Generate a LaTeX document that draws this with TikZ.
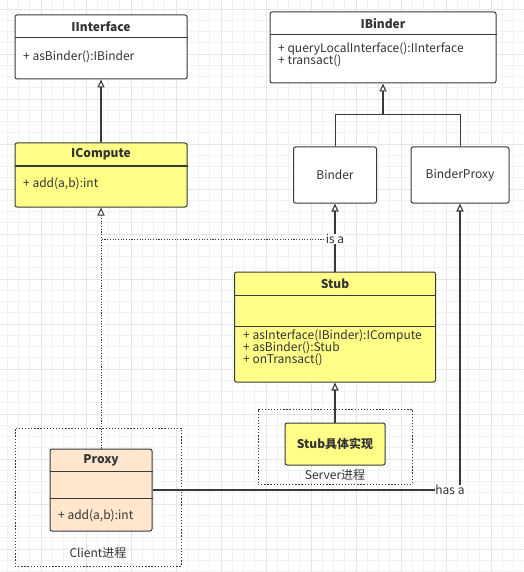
\documentclass[tikz,border=0pt]{standalone}
\usepackage{fontspec}
\setmainfont{Noto Sans CJK SC}
\usetikzlibrary{arrows.meta}
\definecolor{umlyellow}{HTML}{FFFF88}
\definecolor{umlpeach}{HTML}{FFE6CC}
\definecolor{umlstroke}{HTML}{36393D}
\definecolor{umltext}{HTML}{333333}
\definecolor{gridlo}{HTML}{F2F2F2}
\definecolor{gridhi}{HTML}{E6E6E6}
\tikzset{
  gridminor/.style={gridlo, line width=0.6pt},
  gridmajor/.style={gridhi, line width=0.8pt},
  classbox/.style={draw=umlstroke, line width=1pt, rounded corners=2pt, fill=white, inner sep=0pt},
  classsep/.style={umlstroke, line width=1pt},
  classname/.style={font=\bfseries\fontsize{12}{14}\selectfont, text=umltext, inner sep=0pt},
  member/.style={anchor=west, font=\fontsize{12}{14}\selectfont, text=umltext, inner sep=0pt},
  process/.style={draw=umlstroke, line width=0.9pt, dash pattern=on 1.3pt off 1.8pt, inner sep=0pt},
  procname/.style={font=\fontsize{12}{14}\selectfont, text=umltext, inner sep=0pt},
  inherit/.style={draw=umlstroke, line width=1.1pt, -{Triangle[open,length=8pt,width=7pt]}},
  realize/.style={draw=umlstroke, line width=1pt, dash pattern=on 1.1pt off 1.6pt},
  edgelabel/.style={fill=white, font=\fontsize{12}{14}\selectfont, text=umltext, inner sep=0.5pt}
}
\begin{document}
\begin{tikzpicture}[x=1pt,y=-1pt]
    \useasboundingbox (0,0) rectangle (523,572);
    \fill[white] (0,0) rectangle (523,572);
    \foreach \i in {0,...,46} \draw[gridminor] (7.25+\i*11.25,0) -- (7.25+\i*11.25,572);
    \foreach \i in {0,...,50} \draw[gridminor] (0,9+\i*11.25) -- (523,9+\i*11.25);
    \foreach \i in {0,...,10} \draw[gridmajor] (41+\i*45,0) -- (41+\i*45,572);
    \foreach \i in {0,...,12} \draw[gridmajor] (0,9+\i*45) -- (523,9+\i*45);

    \node[process, minimum width=166, minimum height=138] (client) at (98,497) {};
    \node[procname] (clientlabel) at (98,553) {Client进程};
    \node[process, minimum width=154, minimum height=75] (server) at (335,446.5) {};
    \node[procname] (serverlabel) at (335,475) {Server进程};

    \node[classbox, minimum width=172, minimum height=64] (iinterface) at (101,47) {};
    \node[classname] (iinterfacename) at (101,26.5) {IInterface};
    \draw[classsep] (iinterface.west |- 0,38) -- (iinterface.east |- 0,38);
    \node[member] (iinterfaceops) at (23,57) {+ asBinder():IBinder};

    \node[classbox, minimum width=226, minimum height=71] (ibinder) at (383,47.5) {};
    \node[classname] (ibindername) at (383,23.5) {IBinder};
    \draw[classsep] (ibinder.west |- 0,35) -- (ibinder.east |- 0,35);
    \node[member] (ibinderquery) at (278,49) {+ queryLocalInterface():IInterface};
    \node[member] (ibindertransact) at (278,61) {+ transact()};

    \node[classbox, fill=umlyellow, minimum width=172, minimum height=64] (icompute) at (101,175) {};
    \node[classname] (icomputename) at (101,154.5) {ICompute};
    \draw[classsep] (icompute.west |- 0,166) -- (icompute.east |- 0,166);
    \node[member] (icomputeops) at (23,184) {+ add(a,b):int};

    \node[classbox, minimum width=83, minimum height=56] (binder) at (335,175) {};
    \node[procname] (bindername) at (335,175) {Binder};
    \node[classbox, minimum width=98, minimum height=56] (binderproxy) at (460,175) {};
    \node[procname] (binderproxyname) at (460,175) {BinderProxy};

    \node[classbox, fill=umlyellow, minimum width=201, minimum height=110] (stub) at (335,327) {};
    \node[classname] (stubname) at (335,283.5) {Stub};
    \draw[classsep] (stub.west |- 0,295) -- (stub.east |- 0,295);
    \draw[classsep] (stub.west |- 0,326) -- (stub.east |- 0,326);
    \node[member] (stubasinterface) at (243,336) {+ asInterface(IBinder):ICompute};
    \node[member] (stubasbinder) at (243,348) {+ asBinder():Stub};
    \node[member] (stubontransact) at (243,360) {+ onTransact()};

    \node[classbox, fill=umlyellow, minimum width=100, minimum height=42] (stubimpl) at (335,444) {};
    \node[classname] (stubimplname) at (335,444) {Stub具体实现};

    \node[classbox, fill=umlpeach, minimum width=102, minimum height=82] (proxy) at (101,490) {};
    \node[classname] (proxyname) at (101,460) {Proxy};
    \draw[classsep] (proxy.west |- 0,471) -- (proxy.east |- 0,471);
    \draw[classsep] (proxy.west |- 0,498) -- (proxy.east |- 0,498);
    \node[member] (proxyops) at (58,516) {+ add(a,b):int};

    \coordinate (join) at (383,115);
    \coordinate (isa) at (335,239);
    \coordinate (bend) at (101,239);

    \draw[inherit] (icompute.north) -- (iinterface.south);
    \draw[classsep] (binder.north) |- (join);
    \draw[classsep] (binderproxy.north) |- (join);
    \draw[inherit] (join) -- (ibinder.south);
    \draw[inherit] (stub.north) -- (binder.south);
    \draw[inherit] (stubimpl.north) -- (stub.south);
    \draw[realize] (isa) -- (bend);
    \draw[realize, -{Triangle[open,length=8pt,width=7pt]}] (proxy.north) -- (icompute.south);
    \node[edgelabel] (isalabel) at (isa) {is a};
    \draw[inherit] (proxy.east) -| (binderproxy.south) node[edgelabel, pos=0.5, xshift=-10pt] (hasalabel) {has a};
\end{tikzpicture}
\end{document}
